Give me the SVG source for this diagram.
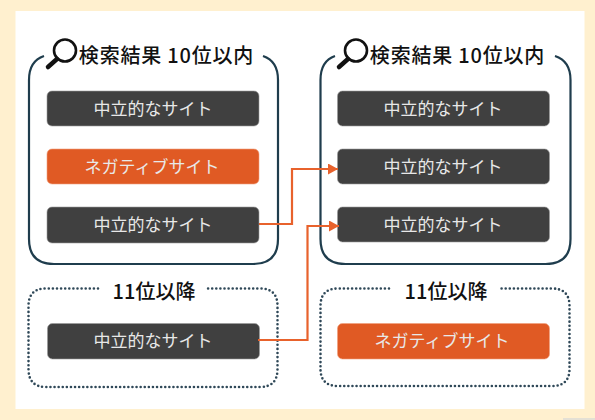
<svg xmlns="http://www.w3.org/2000/svg" width="595" height="420" viewBox="0 0 595 420">
<style>
.t{font-family:"Noto Sans CJK JP","Noto Sans",sans-serif;text-anchor:middle}
.n{font-size:17px;fill:#e8e8e8;font-weight:400}
.h{font-size:20px;fill:#111;font-weight:500}
.f{fill:none;stroke:#1f3d4d;stroke-width:2.2}
.d{fill:none;stroke:#2f4858;stroke-width:2.6;stroke-dasharray:0 4.1;stroke-linecap:round}
.g{fill:#404040;stroke:#9a9a9a;stroke-width:.6}
.o{fill:#e05a24;stroke:#f0a07c;stroke-width:.6}
.c{fill:none;stroke:#e8622c;stroke-width:2.2}
.lens{fill:none;stroke:#111;stroke-width:2.6}
.grip{stroke:#111;stroke-width:4.5;stroke-linecap:round}
</style>
<defs>
<marker id="ah" markerUnits="userSpaceOnUse" markerWidth="11" markerHeight="11" refX="10" refY="5.5" orient="auto"><path d="M0 0L10 5.5L0 11Z" fill="#e8622c"/></marker>
<g id="mag"><circle cx="65" cy="50.500" r="11" class="lens"/><path d="M57 59L48 67" class="grip"/></g>
</defs>
<rect width="595" height="420" fill="#fff0cf"/>
<rect x="15.500" y="11" width="569" height="398" fill="#fff"/>
<rect x="563" y="418" width="32" height="2" fill="#e4e0d4"/>
<g id="frame-top-left"><path class="f" d="M44 56Q29 61 29 80V239Q29 264 54 264H253Q278 264 278 239V80Q278 61 263 56"/><use href="#mag"/><text class="t h" x="166.500" y="62.500" letter-spacing=".8">検索結果 10位以内</text></g>
<g id="frame-top-right"><path class="f" d="M335 56Q320.500 61 320.500 80V239Q320.500 264 345.500 264H545.500Q570.500 264 570.500 239V80Q570.500 61 555 56"/><use href="#mag" x="291"/><text class="t h" x="457.500" y="62.500" letter-spacing=".8">検索結果 10位以内</text></g>
<g id="frame-bottom-left"><path class="d" d="M98 288.500H46Q28.500 288.500 28.500 306V369Q28.500 387 46 387H260Q277.500 387 277.500 369V306Q277.500 288.500 260 288.500H208"/><text class="t h" x="154" y="298.500">11位以降</text></g>
<g id="frame-bottom-right"><path class="d" d="M389 288.500H338Q320.500 288.500 320.500 306V369Q320.500 386 338 386H552Q569.500 386 569.500 369V306Q569.500 288.500 552 288.500H500"/><text class="t h" x="446" y="298.500">11位以降</text></g>
<g id="n1"><rect class="g" x="47" y="91" width="212" height="35" rx="5"/><text class="t n" x="153" y="114.500">中立的なサイト</text></g>
<g id="n2"><rect class="o" x="47" y="149" width="212" height="35" rx="5"/><text class="t n" x="152" y="172.500">ネガティブサイト</text></g>
<g id="n3"><rect class="g" x="47" y="207" width="212" height="36" rx="5"/><text class="t n" x="153" y="230.500">中立的なサイト</text></g>
<g id="n4"><rect class="g" x="47.500" y="323.500" width="212" height="35.500" rx="5"/><text class="t n" x="153" y="347">中立的なサイト</text></g>
<g id="n5"><rect class="g" x="337.500" y="91" width="212" height="35" rx="5"/><text class="t n" x="443" y="114.500">中立的なサイト</text></g>
<g id="n6"><rect class="g" x="337.500" y="149" width="212" height="35" rx="5"/><text class="t n" x="443" y="172.500">中立的なサイト</text></g>
<g id="n7"><rect class="g" x="337.500" y="207" width="212" height="35" rx="5"/><text class="t n" x="443" y="230.500">中立的なサイト</text></g>
<g id="n8"><rect class="o" x="337.500" y="323.500" width="212" height="35.500" rx="5"/><text class="t n" x="442" y="347">ネガティブサイト</text></g>
<g id="connectors">
<path class="c" marker-end="url(#ah)" d="M259 224H292V169H338"/>
<path class="c" marker-end="url(#ah)" d="M258 340H307.500V226H339"/>
</g>
</svg>
